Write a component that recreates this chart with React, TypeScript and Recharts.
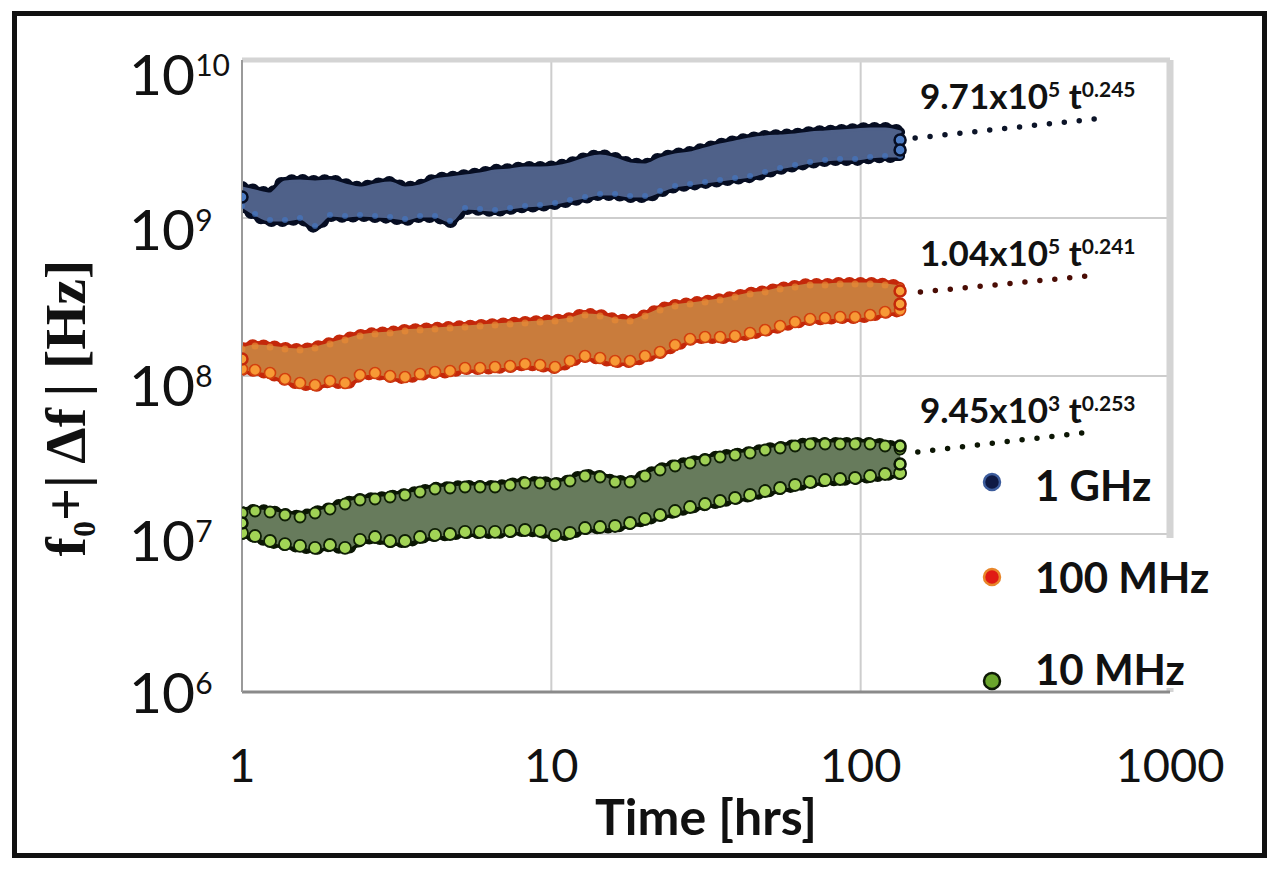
import React from 'react';
import { ComposedChart, Area, Line, XAxis, YAxis, CartesianGrid, ReferenceLine, Legend } from 'recharts';

// ---- data ----
const times = [1.0, 1.102, 1.232, 1.377, 1.54, 1.722, 1.925, 2.153, 2.407, 2.692, 3.01, 3.365, 3.763, 4.207, 4.704, 5.26, 5.882, 6.577, 7.354, 8.222, 9.194, 10.28, 11.49, 12.85, 14.37, 16.07, 17.97, 20.09, 22.46, 25.12, 28.08, 31.4, 35.11, 39.26, 43.9, 49.09, 54.89, 61.37, 68.62, 76.73, 85.8, 95.92, 107.3, 119.9, 134.1];

const ghzHigh = [1.548e9, 1.482e9, 1.419e9, 1.69e9, 1.715e9, 1.69e9, 1.715e9, 1.618e9, 1.548e9, 1.618e9, 1.665e9, 1.548e9, 1.594e9, 1.74e9, 1.791e9, 1.844e9, 1.899e9, 1.984e9, 2.013e9, 2.073e9, 2.073e9, 2.103e9, 2.196e9, 2.363e9, 2.469e9, 2.363e9, 2.196e9, 2.165e9, 2.363e9, 2.505e9, 2.579e9, 2.734e9, 2.897e9, 3.027e9, 3.162e9, 3.256e9, 3.304e9, 3.352e9, 3.451e9, 3.502e9, 3.553e9, 3.606e9, 3.659e9, 3.659e9, 3.502e9];
const ghzLow = [1.191e9, 1.06e9, 0.971e9, 0.971e9, 1.0e9, 0.89e9, 1.045e9, 1.03e9, 1.045e9, 1.03e9, 1.015e9, 0.986e9, 1.03e9, 1.03e9, 0.957e9, 1.157e9, 1.14e9, 1.124e9, 1.157e9, 1.191e9, 1.209e9, 1.244e9, 1.3e9, 1.358e9, 1.419e9, 1.419e9, 1.378e9, 1.378e9, 1.482e9, 1.594e9, 1.641e9, 1.69e9, 1.74e9, 1.791e9, 1.844e9, 1.955e9, 2.073e9, 2.165e9, 2.262e9, 2.328e9, 2.363e9, 2.363e9, 2.433e9, 2.469e9, 2.469e9];

const mhz100High = [1.482e8, 1.548e8, 1.526e8, 1.482e8, 1.461e8, 1.504e8, 1.594e8, 1.69e8, 1.791e8, 1.844e8, 1.871e8, 1.927e8, 1.955e8, 1.984e8, 2.013e8, 2.043e8, 2.073e8, 2.103e8, 2.134e8, 2.165e8, 2.196e8, 2.229e8, 2.295e8, 2.433e8, 2.398e8, 2.262e8, 2.229e8, 2.398e8, 2.617e8, 2.773e8, 2.855e8, 2.94e8, 3.027e8, 3.162e8, 3.304e8, 3.401e8, 3.553e8, 3.659e8, 3.767e8, 3.767e8, 3.823e8, 3.823e8, 3.823e8, 3.767e8, 3.659e8];
const mhz100Low = [1.107e8, 1.091e8, 1.045e8, 0.957e8, 0.903e8, 0.877e8, 0.93e8, 0.903e8, 1.015e8, 1.045e8, 1.0e8, 0.986e8, 1.03e8, 1.06e8, 1.076e8, 1.124e8, 1.124e8, 1.14e8, 1.157e8, 1.191e8, 1.174e8, 1.14e8, 1.244e8, 1.339e8, 1.3e8, 1.244e8, 1.244e8, 1.339e8, 1.419e8, 1.571e8, 1.715e8, 1.766e8, 1.766e8, 1.791e8, 1.871e8, 1.955e8, 2.073e8, 2.196e8, 2.295e8, 2.328e8, 2.363e8, 2.363e8, 2.433e8, 2.542e8, 2.617e8];

const mhz10High = [1.358e7, 1.398e7, 1.378e7, 1.319e7, 1.281e7, 1.358e7, 1.439e7, 1.548e7, 1.641e7, 1.665e7, 1.715e7, 1.766e7, 1.844e7, 1.927e7, 1.955e7, 1.984e7, 1.984e7, 1.984e7, 2.043e7, 2.103e7, 2.103e7, 2.073e7, 2.165e7, 2.328e7, 2.295e7, 2.134e7, 2.134e7, 2.328e7, 2.542e7, 2.694e7, 2.814e7, 2.94e7, 3.072e7, 3.162e7, 3.256e7, 3.401e7, 3.502e7, 3.606e7, 3.713e7, 3.713e7, 3.713e7, 3.713e7, 3.713e7, 3.606e7, 3.451e7];
const mhz10Low = [1.015e7, 0.971e7, 0.903e7, 0.864e7, 0.84e7, 0.816e7, 0.852e7, 0.816e7, 0.917e7, 0.957e7, 0.903e7, 0.903e7, 0.957e7, 0.986e7, 1.0e7, 1.03e7, 1.03e7, 1.03e7, 1.045e7, 1.06e7, 1.045e7, 0.986e7, 1.015e7, 1.091e7, 1.107e7, 1.124e7, 1.174e7, 1.244e7, 1.319e7, 1.398e7, 1.482e7, 1.548e7, 1.618e7, 1.69e7, 1.766e7, 1.871e7, 1.955e7, 2.043e7, 2.134e7, 2.196e7, 2.229e7, 2.262e7, 2.328e7, 2.398e7, 2.433e7];

// points seen at the ends of each band
const ghzEnds = [{ t: 1.0, v: 1.358e9 }, { t: 134.1, v: 3.118e9 }, { t: 134.1, v: 2.694e9 }];
const mhz100Ends = [{ t: 1.0, v: 1.281e8 }, { t: 134.1, v: 3.45e8 }, { t: 134.1, v: 2.855e8 }];
const mhz10Ends = [{ t: 1.0, v: 1.174e7 }, { t: 134.1, v: 3.606e7 }, { t: 134.1, v: 2.773e7 }];

// power-law fit extrapolations (dotted)
const ghzFit = [{ t: 150, v: 3.21e9 }, { t: 617, v: 4.3e9 }];
const mhz100Fit = [{ t: 156, v: 3.4e8 }, { t: 548, v: 4.3e8 }];
const mhz10Fit = [{ t: 153, v: 3.3e7 }, { t: 548, v: 4.42e7 }];

const seriesNames = ['1 GHz', '100 MHz', '10 MHz'];
const fitLabels = [
  { a: '9.71', e: '5', p: '0.245' },
  { a: '1.04', e: '5', p: '0.241' },
  { a: '9.45', e: '3', p: '0.253' },
];

const xTicks = [1, 10, 100, 1000];
const yTicks = [1e6, 1e7, 1e8, 1e9, 1e10];
// baseline offset of each y tick label below its gridline, by exponent (label styling)
const yLabelShift: Record<number, number> = { 6: 21, 7: 27, 8: 30, 9: 32, 10: 35 };

const chartData = times.map((t, i) => ({
  t,
  ghzHigh: ghzHigh[i],
  ghzLow: ghzLow[i],
  mhz100High: mhz100High[i],
  mhz100Low: mhz100Low[i],
  mhz10High: mhz10High[i],
  mhz10Low: mhz10Low[i],
}));

const series = [
  {
    name: seriesNames[0], hi: 'ghzHigh', lo: 'ghzLow', band: '#4f6189', rim: '#060d22',
    hiDot: null, loDot: { fill: '#4476c2', stroke: 'none', r: 3, sw: 0, op: 0.7 },
    endFill: '#4c7cc4', ends: ghzEnds, fit: ghzFit, fitColor: '#0c1428', legFill: '#0f1a44', legStroke: '#3c5c9c',
  },
  {
    name: seriesNames[1], hi: 'mhz100High', lo: 'mhz100Low', band: '#c97c3c', rim: '#c4280a',
    hiDot: { fill: '#e88a34', stroke: 'none', r: 3.5, sw: 0, op: 0.7 }, loDot: { fill: '#f79a36', stroke: '#d2400e', r: 5.5, sw: 1.6, op: 1 },
    endFill: '#f7a03a', ends: mhz100Ends, fit: mhz100Fit, fitColor: '#4a0c04', legFill: '#e01a14', legStroke: '#e8862a',
  },
  {
    name: seriesNames[2], hi: 'mhz10High', lo: 'mhz10Low', band: '#677b5c', rim: '#0b1604',
    hiDot: { fill: '#9fd055', stroke: '#0f1e06', r: 5.5, sw: 1.8, op: 1 }, loDot: { fill: '#a2d456', stroke: '#0f1e06', r: 6, sw: 1.8, op: 1 },
    endFill: '#a8dc60', ends: mhz10Ends, fit: mhz10Fit, fitColor: '#0c1604', legFill: '#6aa62c', legStroke: '#0e1a06',
  },
];

const FONT = 'Lato, "Open Sans", sans-serif';

const makeDot = (fill: string, stroke: string, r: number, sw: number, op = 1) => (props: any) => {
  const { cx, cy, index } = props;
  if (cx == null || cy == null || isNaN(cx) || isNaN(cy)) return <g key={`n${index}`} />;
  return <circle key={`d${index}`} cx={cx} cy={cy} r={r} fill={fill} fillOpacity={op} stroke={stroke} strokeWidth={sw} />;
};

const XTick = (props: any) => {
  const { x, y, payload } = props;
  return (
    <text x={x} y={y + 90} textAnchor="middle" fontFamily={FONT} fontSize={47} fill="#111">
      {payload.value}
    </text>
  );
};

const YTick = (props: any) => {
  const { x, y, payload } = props;
  const exp = Math.round(Math.log10(payload.value));
  return (
    <text x={x - 113} y={y + (yLabelShift[exp] ?? 29)} textAnchor="start" fontFamily={FONT} fontSize={57} fill="#111">
      10<tspan dy={-19} fontSize={30}>{exp}</tspan>
    </text>
  );
};

const LegendBox = () => (
  <div style={{ position: 'relative', width: 255, height: 250, fontFamily: FONT }}>
    <div style={{ position: 'absolute', left: 0, top: 99, width: 255, height: 150, background: '#fff' }} />
    {series.map((s, i) => (
      <div key={s.name} style={{ position: 'absolute', left: 0, top: i * 92, height: 92, display: 'flex', alignItems: 'center' }}>
        <svg width={20} height={20} style={{ marginLeft: 17, marginTop: i === 2 ? 24 : i === 0 ? -6 : 0 }}>
          <circle cx={10} cy={10} r={8} fill={s.legFill} stroke={s.legStroke} strokeWidth={2.5} />
        </svg>
        <span style={{ marginLeft: 33, fontSize: 42, fontWeight: 700, color: '#111', whiteSpace: 'nowrap', lineHeight: 1 }}>{s.name}</span>
      </div>
    ))}
  </div>
);

const bandKey = (s: any) => (d: any) => [d[s.lo], d[s.hi]];

export default function App() {
  return (
    <div style={{ position: 'absolute', left: 0, top: 0, width: 1276, height: 871, background: '#fff' }}>
      <ComposedChart width={1276} height={871} data={chartData} margin={{ top: 60, right: 106, bottom: 69, left: 0 }}>
        <CartesianGrid stroke="#cdcdcd" strokeWidth={2} />
        <XAxis
          dataKey="t"
          type="number"
          scale="log"
          domain={[1, 1000]}
          ticks={xTicks}
          allowDataOverflow
          height={110}
          tickLine={false}
          tickSize={0}
          tickMargin={0}
          tick={<XTick />}
          axisLine={{ stroke: '#8a8a8a', strokeWidth: 3 }}
        />
        <YAxis
          type="number"
          scale="log"
          domain={[1e6, 1e10]}
          ticks={yTicks}
          allowDataOverflow
          width={242}
          tickLine={false}
          tickSize={0}
          tickMargin={0}
          tick={<YTick />}
          axisLine={{ stroke: '#9a9a9a', strokeWidth: 2 }}
        />
        <ReferenceLine y={1e10} stroke="#d4d4d4" strokeWidth={5} />
        <ReferenceLine x={1000} stroke="#d4d4d4" strokeWidth={7} />
        {series.map((s) => (
          <Area
            key={`rim-${s.name}`}
            type="monotone"
            dataKey={bandKey(s)}
            fill={s.rim}
            fillOpacity={1}
            stroke={s.rim}
            strokeWidth={10}
            strokeLinejoin="round"
            strokeLinecap="round"
            isAnimationActive={false}
            activeDot={false}
            legendType="none"
          />
        ))}
        {series.map((s) => (
          <Area
            key={`bumps-${s.name}`}
            type="monotone"
            dataKey={bandKey(s)}
            fill="none"
            stroke={s.rim}
            strokeWidth={14}
            strokeDasharray="0 11"
            strokeLinecap="round"
            isAnimationActive={false}
            activeDot={false}
            legendType="none"
          />
        ))}
        {series.map((s) => (
          <Area
            key={`band-${s.name}`}
            type="monotone"
            dataKey={bandKey(s)}
            fill={s.band}
            fillOpacity={1}
            stroke={s.band}
            strokeWidth={3}
            strokeLinejoin="round"
            strokeLinecap="round"
            isAnimationActive={false}
            activeDot={false}
            legendType="none"
          />
        ))}
        {series.filter((s) => s.hiDot).map((s) => (
          <Line
            key={`hi-${s.name}`}
            dataKey={s.hi}
            stroke="none"
            dot={makeDot(s.hiDot!.fill, s.hiDot!.stroke, s.hiDot!.r, s.hiDot!.sw, s.hiDot!.op)}
            activeDot={false}
            isAnimationActive={false}
            legendType="none"
          />
        ))}
        {series.map((s) => (
          <Line
            key={`lo-${s.name}`}
            dataKey={s.lo}
            stroke="none"
            dot={makeDot(s.loDot.fill, s.loDot.stroke, s.loDot.r, s.loDot.sw, s.loDot.op)}
            activeDot={false}
            isAnimationActive={false}
            legendType="none"
          />
        ))}
        {series.map((s) => (
          <Line
            key={`end-${s.name}`}
            data={s.ends}
            dataKey="v"
            stroke="none"
            dot={makeDot(s.endFill, s.rim, 5.5, 2.5)}
            activeDot={false}
            isAnimationActive={false}
            legendType="none"
          />
        ))}
        {series.map((s) => (
          <Line
            key={`fit-${s.name}`}
            data={s.fit}
            dataKey="v"
            type="linear"
            stroke={s.fitColor}
            strokeWidth={5.5}
            strokeDasharray="0 15"
            strokeLinecap="round"
            dot={false}
            activeDot={false}
            isAnimationActive={false}
            legendType="none"
          />
        ))}
        <Legend
          layout="horizontal"
          align="center"
          verticalAlign="middle"
          content={() => <LegendBox />}
          wrapperStyle={{ left: 965, top: 439, width: 255, height: 250 }}
        />
      </ComposedChart>

      {fitLabels.map((f, i) => (
        <div
          key={`fl${i}`}
          style={{ position: 'absolute', left: 920, top: 78 + i * 157, fontFamily: FONT, fontWeight: 700, fontSize: 35, lineHeight: 1, color: '#111', whiteSpace: 'nowrap' }}
        >
          {f.a}x10<span style={{ fontSize: '0.6em', position: 'relative', top: -12 }}>{f.e}</span> t<span style={{ fontSize: '0.6em', position: 'relative', top: -12 }}>{f.p}</span>
        </div>
      ))}

      <div
        style={{ position: 'absolute', left: 706, top: 791, transform: 'translateX(-50%)', fontFamily: FONT, fontWeight: 700, fontSize: 50, lineHeight: 1, color: '#111', whiteSpace: 'nowrap' }}
      >
        Time [hrs]
      </div>

      <div
        style={{ position: 'absolute', left: 66, top: 408, transform: 'translate(-50%,-50%) rotate(-90deg)', fontFamily: '"Liberation Serif", "DejaVu Serif", serif', fontWeight: 700, fontSize: 58, lineHeight: 1, color: '#111', whiteSpace: 'nowrap' }}
      >
        f<span style={{ fontSize: '0.55em', position: 'relative', top: '0.3em' }}>0</span>+|&thinsp;Δf&thinsp;| [Hz]
      </div>

      <div style={{ position: 'absolute', left: 12, top: 11, width: 1255, height: 847, border: '5px solid #111', boxSizing: 'border-box', pointerEvents: 'none' }} />
    </div>
  );
}
